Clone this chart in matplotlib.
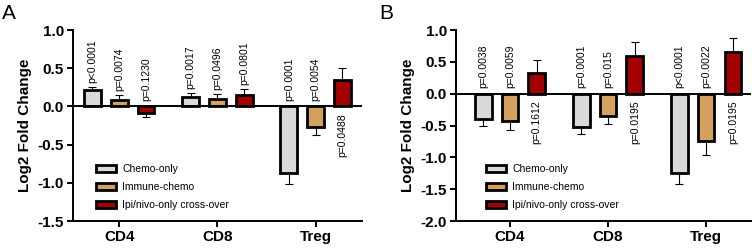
import numpy as np
import matplotlib
matplotlib.use('Agg')
import matplotlib.pyplot as plt

plt.rcParams['font.family'] = ['Liberation Sans', 'DejaVu Sans']

cells = ['CD4', 'CD8', 'Treg']
groups = ['Chemo-only', 'Immune-chemo', 'Ipi/nivo-only cross-over']
colors = ['#d9d9d9', '#d4a160', '#a50000']

# panel A: mean log2 FC and error (one-sided, away from zero)
a_means = [[0.22, 0.12, -0.87],
           [0.08, 0.10, -0.27],
           [-0.085, 0.15, 0.35]]
a_errs = [[0.035, 0.055, 0.14],
          [0.07, 0.06, 0.11],
          [0.05, 0.075, 0.15]]
a_pvals = [['p<0.0001', 'p=0.0017', 'p=0.0001'],
           ['p=0.0074', 'p=0.0496', 'p=0.0054'],
           ['p=0.1230', 'p=0.0801', 'p=0.0488']]

# panel B
b_means = [[-0.40, -0.525, -1.25],
           [-0.43, -0.355, -0.75],
           [0.32, 0.59, 0.65]]
b_errs = [[0.115, 0.115, 0.17],
          [0.14, 0.12, 0.21],
          [0.21, 0.215, 0.225]]
b_pvals = [['p=0.0038', 'p=0.0001', 'p<0.0001'],
           ['p=0.0059', 'p=0.015', 'p=0.0022'],
           ['p=0.1612', 'p=0.0195', 'p=0.0195']]


def draw_panel(ax, means, errs, pvals, ylim, xlim, text_len):
    x = np.arange(len(cells))
    offset = 0.273
    width = 0.17
    for i in range(len(groups)):
        m = np.array(means[i])
        e = np.array(errs[i])
        xs = x + (i - 1) * offset
        lower = np.where(m < 0, e, 0)
        upper = np.where(m >= 0, e, 0)
        ax.errorbar(xs, m, yerr=[lower, upper], fmt='none', ecolor='black',
                    elinewidth=0.8, capsize=3.2, capthick=0.8, zorder=2)
        ax.bar(xs, m, width=width, color=colors[i], edgecolor='black',
               linewidth=2.0, label=groups[i], zorder=3)
        for xi, mi, ei, p in zip(xs, m, e, pvals[i]):
            if mi >= 0 and mi + ei + text_len < ylim[1]:
                ax.annotate(p, (xi, mi + ei), xytext=(0, 3), textcoords='offset points',
                            rotation=90, ha='center', va='bottom', fontsize=7.5)
            elif mi < 0:
                ax.annotate(p, (xi, 0), xytext=(0, 4), textcoords='offset points',
                            rotation=90, ha='center', va='bottom', fontsize=7.5)
            else:
                ax.annotate(p, (xi, 0), xytext=(0, -5), textcoords='offset points',
                            rotation=90, ha='center', va='top', fontsize=7.5)
    ax.axhline(0, color='black', linewidth=1.4, zorder=4)
    ax.set_ylim(*ylim)
    ax.set_xlim(*xlim)
    ticks = np.arange(ylim[0], ylim[1] + 0.01, 0.5)
    ax.set_yticks(ticks)
    ax.set_yticklabels([f'{v:.1f}' for v in ticks], fontsize=11, fontweight='bold')
    ax.set_xticks(x)
    ax.set_xticklabels(cells, fontsize=11, fontweight='bold')
    ax.set_ylabel('Log2 Fold Change', fontsize=11, fontweight='bold', labelpad=4)
    ax.spines['top'].set_visible(False)
    ax.spines['right'].set_visible(False)
    ax.spines['left'].set_linewidth(1.4)
    ax.spines['bottom'].set_linewidth(1.4)
    ax.tick_params(axis='both', width=1.4, length=4.5, pad=2)


fig = plt.figure(figsize=(7.52, 2.49), dpi=100)
ax_a = fig.add_axes([0.0971, 0.1124, 0.384, 0.767])
ax_b = fig.add_axes([0.6064, 0.1124, 0.3926, 0.767])

draw_panel(ax_a, a_means, a_errs, a_pvals, (-1.5, 1.0), (-0.47, 2.47), 0.6)
draw_panel(ax_b, b_means, b_errs, b_pvals, (-2.0, 1.0), (-0.55, 2.46), 0.7)

for ax, anchor in [(ax_a, (0.055, 0.02)), (ax_b, (0.078, 0.02))]:
    ax.legend(loc='lower left', bbox_to_anchor=anchor, frameon=False, fontsize=7.5,
              handlelength=1.9, handleheight=0.6, labelspacing=0.75, handletextpad=0.6,
              borderpad=0.2)

fig.text(0.002, 0.985, 'A', fontsize=15, va='top', ha='left')
fig.text(0.504, 0.985, 'B', fontsize=15, va='top', ha='left')

fig.savefig('out.png', dpi=100)
